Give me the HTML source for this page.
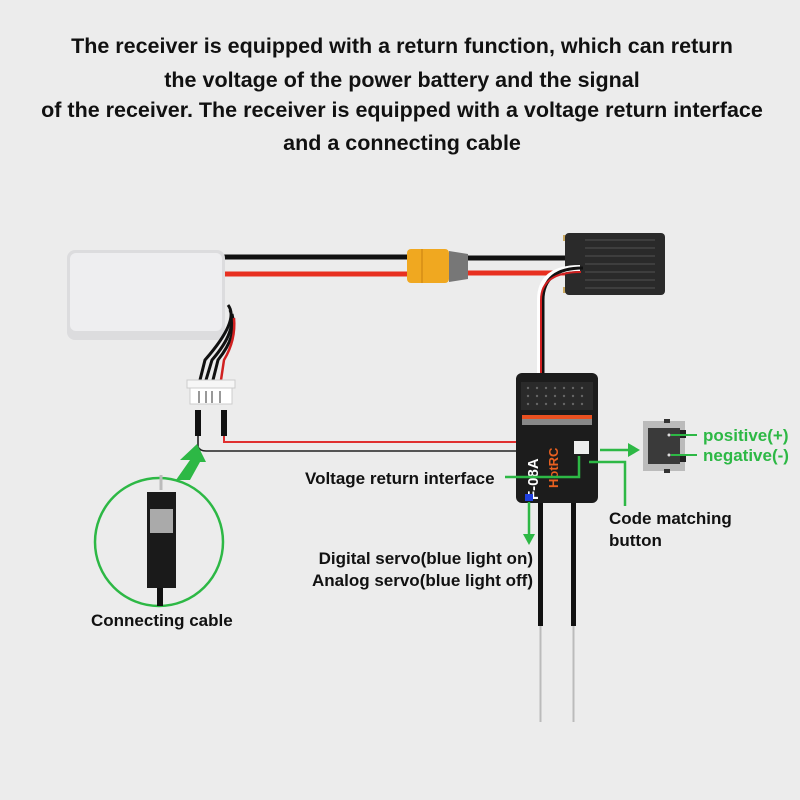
<!DOCTYPE html>
<html><head><meta charset="utf-8"><style>
html,body{margin:0;padding:0;background:#ececec;}
svg{display:block;}
text{font-family:"Liberation Sans",sans-serif;font-weight:bold;}
</style></head><body>
<svg width="800" height="800" viewBox="0 0 800 800" xmlns="http://www.w3.org/2000/svg">
<rect width="800" height="800" fill="#ececec"/>
<g font-size="21.5" fill="#111" text-anchor="middle">
<text x="402" y="53">The receiver is equipped with a return function, which can return</text>
<text x="402" y="87">the voltage of the power battery and the signal</text>
<text x="402" y="117">of the receiver. The receiver is equipped with a voltage return interface</text>
<text x="402" y="150">and a connecting cable</text>
</g>
<line x1="220" y1="257" x2="410" y2="257" stroke="#111" stroke-width="5"/>
<line x1="220" y1="274" x2="410" y2="274" stroke="#e83020" stroke-width="5"/>
<line x1="465" y1="258" x2="570" y2="258" stroke="#111" stroke-width="5"/>
<line x1="465" y1="273" x2="565" y2="273" stroke="#e83020" stroke-width="5"/>
<rect x="407" y="249" width="42" height="34" rx="4" fill="#f0a820"/>
<line x1="422" y1="249" x2="422" y2="283" stroke="#c88010" stroke-width="1"/>
<path d="M449 251 L468 254 L468 279 L449 282 Z" fill="#777"/>
<rect x="563" y="235" width="10" height="6" fill="#c9a860"/>
<rect x="648" y="235" width="12" height="6" fill="#c9a860"/>
<rect x="563" y="287" width="10" height="6" fill="#c9a860"/>
<rect x="648" y="287" width="12" height="6" fill="#c9a860"/>
<rect x="565" y="233" width="100" height="62" rx="4" fill="#2a2a2a"/>
<g stroke="#444" stroke-width="1.5">
<line x1="585" y1="240" x2="655" y2="240"/><line x1="585" y1="248" x2="655" y2="248"/><line x1="585" y1="256" x2="655" y2="256"/><line x1="585" y1="264" x2="655" y2="264"/><line x1="585" y1="272" x2="655" y2="272"/><line x1="585" y1="280" x2="655" y2="280"/><line x1="585" y1="288" x2="655" y2="288"/>
</g>
<path d="M580 268 Q540 268 540 300 L540 385" fill="none" stroke="#fff" stroke-width="6"/>
<path d="M583 268 Q543 268 543 300 L543 385" fill="none" stroke="#111" stroke-width="3"/>
<path d="M581 272 Q541 272 541 300 L541 385" fill="none" stroke="#d02020" stroke-width="2"/>
<rect x="67" y="250" width="158" height="90" rx="8" fill="#dcdcde"/>
<rect x="70" y="253" width="152" height="78" rx="6" fill="#eeeef0"/>
<path d="M228 305 Q240 320 205 360 L200 380" fill="none" stroke="#111" stroke-width="3"/>
<path d="M230 310 Q238 330 212 360 L206 380" fill="none" stroke="#111" stroke-width="3"/>
<path d="M232 314 Q238 335 218 360 L213 380" fill="none" stroke="#111" stroke-width="3"/>
<path d="M234 318 Q236 340 224 360 L221 380" fill="none" stroke="#d02020" stroke-width="2.5"/>
<rect x="187" y="380" width="48" height="8" fill="#f6f6f6" stroke="#ccc"/>
<rect x="190" y="388" width="42" height="16" fill="#fff" stroke="#ccc"/>
<g fill="#999"><rect x="198" y="391" width="2" height="12"/><rect x="205" y="391" width="2" height="12"/><rect x="211" y="391" width="2" height="12"/><rect x="219" y="391" width="2" height="12"/></g>
<rect x="195" y="410" width="6" height="26" fill="#111"/>
<rect x="221" y="410" width="6" height="26" fill="#111"/>
<path d="M224 436 L224 442 L580 442" fill="none" stroke="#e03030" stroke-width="2"/>
<path d="M198 436 L198 447 Q200 451 206 451 L580 451" fill="none" stroke="#222" stroke-width="1.6"/>
<rect x="538" y="500" width="5" height="126" fill="#111"/>
<rect x="571" y="500" width="5" height="126" fill="#111"/>
<rect x="539.5" y="626" width="2" height="96" fill="#bbb"/>
<rect x="572.5" y="626" width="2" height="96" fill="#bbb"/>
<rect x="516" y="373" width="82" height="130" rx="6" fill="#1c1c1c"/>
<rect x="521" y="382" width="72" height="28" fill="#2a2a2a"/>
<g fill="#666">
<circle cx="528" cy="388" r="1.2"/><circle cx="537" cy="388" r="1.2"/><circle cx="546" cy="388" r="1.2"/><circle cx="555" cy="388" r="1.2"/><circle cx="564" cy="388" r="1.2"/><circle cx="573" cy="388" r="1.2"/><circle cx="582" cy="388" r="1.2"/>
<circle cx="528" cy="396" r="1.2"/><circle cx="537" cy="396" r="1.2"/><circle cx="546" cy="396" r="1.2"/><circle cx="555" cy="396" r="1.2"/><circle cx="564" cy="396" r="1.2"/><circle cx="573" cy="396" r="1.2"/><circle cx="582" cy="396" r="1.2"/>
<circle cx="528" cy="404" r="1.2"/><circle cx="537" cy="404" r="1.2"/><circle cx="546" cy="404" r="1.2"/><circle cx="555" cy="404" r="1.2"/><circle cx="564" cy="404" r="1.2"/><circle cx="573" cy="404" r="1.2"/><circle cx="582" cy="404" r="1.2"/>
</g>
<rect x="522" y="415" width="70" height="4" fill="#e85020"/>
<rect x="522" y="419" width="70" height="6" fill="#888"/>
<text x="0" y="0" transform="translate(538,500) rotate(-90)" font-size="15" fill="#fff">F-08A</text>
<text x="0" y="0" transform="translate(558,488) rotate(-90)" font-size="13" fill="#e86020">HotRC</text>
<rect x="574" y="441" width="15" height="13" fill="#eee"/>
<rect x="525" y="494" width="8" height="7" fill="#2040e0"/>
<g stroke="#2db845" stroke-width="2.5" fill="none">
<line x1="600" y1="450" x2="630" y2="450"/>
<polyline points="505,477 579,477 579,456"/>
<polyline points="589,462 625,462 625,506"/>
<line x1="529" y1="502" x2="529" y2="535"/>
<circle cx="159" cy="542" r="64"/>
</g>
<polygon points="640,450 628,443 628,457" fill="#2db845"/>
<polygon points="529,545 523,534 535,534" fill="#2db845"/>
<polygon points="197,444 180,460 190,460 176,480 190,480 200,462 206,462" fill="#2db845"/>
<line x1="161" y1="475" x2="161" y2="490" stroke="#bbb" stroke-width="3"/>
<rect x="147" y="492" width="29" height="96" fill="#1a1a1a"/>
<rect x="150" y="509" width="23" height="24" fill="#aaa"/>
<rect x="157" y="588" width="6" height="18" fill="#111"/>
<rect x="643" y="421" width="42" height="50" fill="#bbb"/>
<rect x="648" y="428" width="32" height="36" fill="#3a3a3a"/>
<rect x="680" y="430" width="6" height="8" fill="#222"/>
<rect x="680" y="454" width="6" height="8" fill="#222"/>
<rect x="664" y="419" width="6" height="4" fill="#333"/>
<rect x="664" y="469" width="6" height="4" fill="#333"/>
<circle cx="669" cy="435" r="1.5" fill="#ddd"/><circle cx="669" cy="455" r="1.5" fill="#ddd"/>
<line x1="671" y1="435" x2="697" y2="435" stroke="#2db845" stroke-width="2"/>
<line x1="671" y1="455" x2="697" y2="455" stroke="#2db845" stroke-width="2"/>
<g font-size="17" fill="#2db845">
<text x="703" y="441">positive(+)</text>
<text x="703" y="461">negative(-)</text>
</g>
<g font-size="17" fill="#111">
<text x="305" y="484">Voltage return interface</text>
<text x="609" y="524">Code matching</text>
<text x="609" y="546">button</text>
<text x="533" y="564" text-anchor="end">Digital servo(blue light on)</text>
<text x="533" y="586" text-anchor="end">Analog servo(blue light off)</text>
<text x="91" y="626">Connecting cable</text>
</g>
</svg>
</body></html>
